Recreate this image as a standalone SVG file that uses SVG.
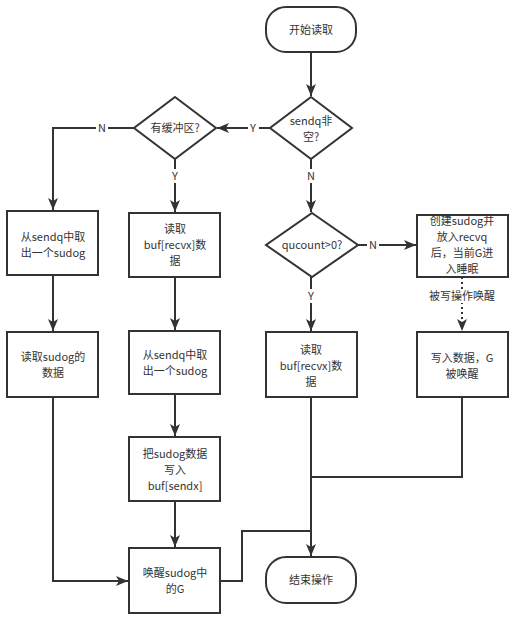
<svg xmlns="http://www.w3.org/2000/svg" width="516" height="621" viewBox="0 0 516 621">
<style>
.n{fill:#fff;stroke:#333;stroke-width:2}
.t{font-family:"Noto Sans CJK SC","Liberation Sans",sans-serif;font-size:11px;fill:#333;text-anchor:middle}
.c{fill:none;stroke:#333;stroke-width:2}
.d{fill:none;stroke:#333;stroke-width:2;stroke-dasharray:2 3}
.lb{fill:#fff;stroke:none}
</style>
<defs>
<marker id="a" markerUnits="userSpaceOnUse" markerWidth="14" markerHeight="12" refX="12" refY="5" orient="auto" viewBox="0 0 14 10">
<path d="M0,0 L12,5 L0,10 L3,5 Z" fill="#333"/>
</marker>
</defs>
<rect width="516" height="621" fill="#fff"/>
<g id="connectors">
<path class="c" d="M311,52 V96" marker-end="url(#a)"/>
<path class="c" d="M270,128 H217" marker-end="url(#a)"/>
<path class="c" d="M134,128 H53 V210" marker-end="url(#a)"/>
<path class="c" d="M175,159 V212" marker-end="url(#a)"/>
<path class="c" d="M311,159 V212" marker-end="url(#a)"/>
<path class="c" d="M358,245 H416" marker-end="url(#a)"/>
<path class="c" d="M311,277 V331" marker-end="url(#a)"/>
<path class="d" d="M462,277 V331" marker-end="url(#a)"/>
<path class="c" d="M53,275 V331" marker-end="url(#a)"/>
<path class="c" d="M175,277 V330" marker-end="url(#a)"/>
<path class="c" d="M175,394 V436" marker-end="url(#a)"/>
<path class="c" d="M175,501 V547" marker-end="url(#a)"/>
<path class="c" d="M53,397 V581 H128" marker-end="url(#a)"/>
<path class="c" d="M220,581 H242 V531 H311"/>
<path class="c" d="M462,397 V477 H311"/>
<path class="c" d="M311,397 V556" marker-end="url(#a)"/>
<rect class="lb" x="248" y="121" width="11" height="14"/>
<text class="t" x="253" y="132">Y</text>
<rect class="lb" x="96" y="121" width="12" height="14"/>
<text class="t" x="102" y="132">N</text>
<rect class="lb" x="169" y="169" width="12" height="14"/>
<text class="t" x="175" y="180">Y</text>
<rect class="lb" x="305" y="169" width="12" height="14"/>
<text class="t" x="311" y="180">N</text>
<rect class="lb" x="367" y="238" width="12" height="14"/>
<text class="t" x="373" y="249">N</text>
<rect class="lb" x="305" y="289" width="12" height="14"/>
<text class="t" x="311" y="300">Y</text>
<rect class="lb" x="427" y="289" width="70" height="14"/>
<text class="t" x="462" y="300">被写操作唤醒</text>
</g>
<g id="start">
<rect class="n" x="266" y="7" width="90" height="45" rx="20"/>
<text class="t" x="311" y="34">开始读取</text>
</g>
<g id="sendq">
<polygon class="n" points="311,97 352,128 311,159 270,128"/>
<text class="t" x="311" y="125">sendq非</text>
<text class="t" x="311" y="141">空?</text>
</g>
<g id="hasbuf">
<polygon class="n" points="175,97 216,128 175,159 134,128"/>
<text class="t" x="175" y="132">有缓冲区?</text>
</g>
<g id="take1">
<rect class="n" x="7" y="211" width="91" height="64"/>
<text class="t" x="53" y="241">从sendq中取</text>
<text class="t" x="53" y="257">出一个sudog</text>
</g>
<g id="readbuf1">
<rect class="n" x="129" y="213" width="91" height="64"/>
<text class="t" x="175" y="233">读取</text>
<text class="t" x="175" y="249">buf[recvx]数</text>
<text class="t" x="175" y="265">据</text>
</g>
<g id="qcount">
<polygon class="n" points="312,213 358,245 312,277 266,245"/>
<text class="t" x="312" y="249">qucount&gt;0?</text>
</g>
<g id="create">
<rect class="n" x="417" y="215" width="91" height="62"/>
<text class="t" x="462" y="225">创建sudog并</text>
<text class="t" x="462" y="241">放入recvq</text>
<text class="t" x="462" y="257">后，当前G进</text>
<text class="t" x="462" y="273">入睡眠</text>
</g>
<g id="readsudog">
<rect class="n" x="7" y="332" width="91" height="65"/>
<text class="t" x="53" y="361">读取sudog的</text>
<text class="t" x="53" y="377">数据</text>
</g>
<g id="take2">
<rect class="n" x="129" y="331" width="91" height="63"/>
<text class="t" x="175" y="359">从sendq中取</text>
<text class="t" x="175" y="375">出一个sudog</text>
</g>
<g id="readbuf2">
<rect class="n" x="266" y="332" width="91" height="65"/>
<text class="t" x="311" y="354">读取</text>
<text class="t" x="311" y="370">buf[recvx]数</text>
<text class="t" x="311" y="386">据</text>
</g>
<g id="write">
<rect class="n" x="417" y="332" width="91" height="65"/>
<text class="t" x="462" y="362">写入数据，G</text>
<text class="t" x="462" y="378">被唤醒</text>
</g>
<g id="copy">
<rect class="n" x="129" y="437" width="91" height="64"/>
<text class="t" x="175" y="458">把sudog数据</text>
<text class="t" x="175" y="474">写入</text>
<text class="t" x="175" y="490">buf[sendx]</text>
</g>
<g id="wake">
<rect class="n" x="129" y="548" width="91" height="65"/>
<text class="t" x="175" y="577">唤醒sudog中</text>
<text class="t" x="175" y="593">的G</text>
</g>
<g id="end">
<rect class="n" x="266" y="557" width="90" height="46" rx="20"/>
<text class="t" x="311" y="584">结束操作</text>
</g>
</svg>
